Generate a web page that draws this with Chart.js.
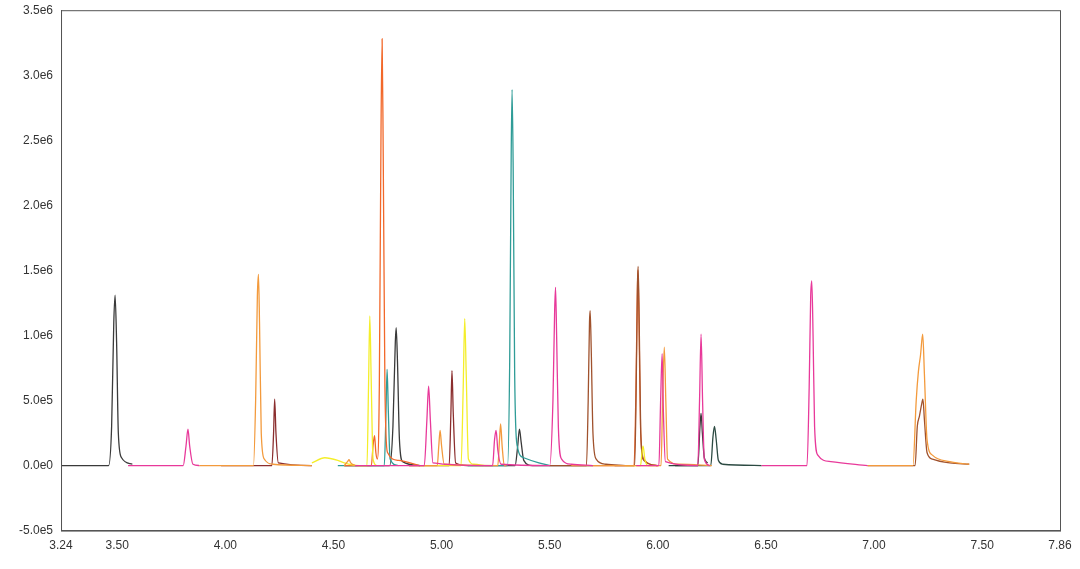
<!DOCTYPE html>
<html><head><meta charset="utf-8">
<script src="https://cdn.jsdelivr.net/npm/chart.js@4"></script>
<style>html,body{margin:0;background:#fff}#w{width:1080px;height:569px}</style>
</head><body><div id="w"><canvas id="c"></canvas></div>
<script>
const xTicks=[3.24,3.5,4.0,4.5,5.0,5.5,6.0,6.5,7.0,7.5,7.86];
const yTicks=[-5e5,0,5e5,1e6,1.5e6,2e6,2.5e6,3e6,3.5e6];
const N=null;
const blackTrace=[[3.24,0],[3.46,0],[3.474,0.3e6],[3.484,1.1e6],[3.49,1.31e6],[3.497,0.95e6],[3.505,0.25e6],[3.52,0.06e6],[3.57,0.01e6],N,
 [4.55,0],[4.76,0],[4.775,0.3e6],[4.786,0.95e6],[4.79,1.06e6],[4.796,0.8e6],[4.805,0.2e6],[4.82,0.03e6],[4.9,0],N,
 [5.12,0],[5.34,0],[5.352,0.15e6],[5.36,0.28e6],[5.368,0.18e6],[5.38,0.04e6],[5.42,0],[5.7,0],N,
 [6.08,0],[6.185,0],[6.195,0.3e6],[6.2,0.40e6],[6.206,0.25e6],[6.215,0.06e6],[6.23,0.02e6]];
const darkGreenTrace=[[6.05,0],[6.245,0],[6.255,0.22e6],[6.262,0.30e6],[6.27,0.2e6],[6.28,0.04e6],[6.3,0.01e6],[6.48,0]];
const pinkTrace=[[3.55,0],[3.805,0],[3.818,0.15e6],[3.827,0.28e6],[3.835,0.15e6],[3.85,0.01e6],[3.88,0],N,
 [4.6,0],[4.92,0],[4.932,0.35e6],[4.94,0.61e6],[4.948,0.35e6],[4.96,0.02e6],[5.2,0],[5.236,0],[5.245,0.2e6],[5.252,0.27e6],[5.26,0.12e6],[5.275,0.01e6],[5.5,0],
 [5.515,0.5e6],[5.523,1.2e6],[5.527,1.37e6],[5.532,1.0e6],[5.54,0.3e6],[5.555,0.05e6],[5.6,0.01e6],[5.7,0],N,
 [5.9,0],[6.005,0],[6.013,0.5e6],[6.02,0.86e6],[6.026,0.4e6],[6.035,0.03e6],[6.185,0],[6.193,0.5e6],[6.2,1.01e6],[6.207,0.5e6],[6.215,0.05e6],[6.24,0],N,
 [6.48,0],[6.69,0],[6.7,0.6e6],[6.707,1.3e6],[6.712,1.42e6],[6.718,1.0e6],[6.725,0.3e6],[6.74,0.08e6],[6.8,0.03e6],[6.97,0]];
const orangeTrace=[[3.88,0],[4.13,0],[4.14,0.5e6],[4.148,1.3e6],[4.153,1.47e6],[4.158,1.1e6],[4.166,0.25e6],[4.18,0.05e6],[4.22,0.01e6],[4.4,0],N,
 [4.55,0],[4.565,0.03e6],[4.572,0.045e6],[4.58,0.02e6],[4.6,0],N,
 [4.85,0],[4.98,0],[4.987,0.15e6],[4.993,0.27e6],[5.0,0.15e6],[5.012,0.01e6],[5.26,0],[5.268,0.2e6],[5.273,0.32e6],[5.28,0.15e6],[5.29,0],[5.3,0],N,
 [5.6,0],[6.015,0],[6.022,0.5e6],[6.03,0.91e6],[6.037,0.5e6],[6.045,0.05e6],[6.1,0.01e6],[6.25,0],N,
 [6.97,0],[7.18,0],[7.195,0.5e6],[7.205,0.72e6],[7.215,0.85e6],[7.225,1.01e6],[7.233,0.7e6],[7.245,0.2e6],[7.27,0.08e6],[7.35,0.03e6],[7.44,0.01e6]];
const darkRedTrace=[[3.98,0],[4.215,0],[4.223,0.25e6],[4.228,0.51e6],[4.234,0.25e6],[4.245,0.02e6],[4.4,0],N,
 [4.85,0],[5.035,0],[5.043,0.4e6],[5.048,0.73e6],[5.054,0.4e6],[5.065,0.02e6],[5.12,0]];
const yellowTrace=[[4.4,0.02e6],[4.46,0.06e6],[4.52,0.04e6],[4.55,0.02e6],[4.62,0],[4.655,0],[4.662,0.6e6],[4.668,1.15e6],[4.674,0.7e6],[4.683,0.05e6],[4.7,0],N,
 [4.9,0],[5.09,0],[5.1,0.6e6],[5.107,1.13e6],[5.114,0.7e6],[5.124,0.05e6],[5.15,0.01e6],[5.2,0],N,
 [5.85,0],[5.92,0],[5.927,0.1e6],[5.932,0.15e6],[5.94,0.05e6],[5.955,0],[6.0,0]];
const redOrangeTrace=[[4.55,0],[4.675,0],[4.683,0.15e6],[4.69,0.23e6],[4.696,0.1e6],[4.703,0.05e6],[4.712,0.6e6],[4.72,2.6e6],[4.725,3.28e6],[4.73,2.4e6],[4.738,0.6e6],[4.75,0.1e6],[4.8,0.04e6],[4.9,0],N,
 [5.7,0],[5.89,0],[5.898,0.5e6],[5.905,1.3e6],[5.908,1.5e6],[5.913,1.1e6],[5.92,0.3e6],[5.935,0.05e6],[6.0,0]];
const tealTrace=[[4.52,0],[4.735,0],[4.742,0.35e6],[4.748,0.74e6],[4.754,0.4e6],[4.762,0.05e6],[4.8,0],N,
 [5.12,0],[5.305,0],[5.315,0.8e6],[5.322,2.4e6],[5.326,2.89e6],[5.331,2.3e6],[5.338,0.7e6],[5.35,0.15e6],[5.38,0.06e6],[5.45,0.02e6],[5.5,0]];
const brownTrace=[[5.5,0],[5.67,0],[5.678,0.5e6],[5.684,1.1e6],[5.687,1.19e6],[5.692,0.9e6],[5.7,0.25e6],[5.715,0.05e6],[5.76,0.01e6],[5.85,0],N,
 [5.8,0],[5.893,0],[5.9,0.6e6],[5.906,1.4e6],[5.909,1.53e6],[5.914,1.1e6],[5.921,0.25e6],[5.935,0.04e6],[6.0,0],N,
 [6.97,0],[7.19,0],[7.2,0.3e6],[7.21,0.38e6],[7.22,0.47e6],[7.226,0.51e6],[7.233,0.35e6],[7.245,0.1e6],[7.27,0.05e6],[7.35,0.02e6],[7.44,0.01e6]];
const series=[
 ['#e8399a',pinkTrace],['#f39a3c',orangeTrace],['#f4ee2a',yellowTrace],['#8b2e2e',darkRedTrace],
 ['#a0522d',brownTrace],['#f2682a',redOrangeTrace],['#2f9c97',tealTrace],['#3a3a3a',blackTrace],['#2c4a42',darkGreenTrace]];
const boxPlugin={id:'box',afterDraw(c){const a=c.chartArea,x=c.ctx;x.save();x.strokeStyle='#555';x.lineWidth=1;x.strokeRect(a.left+0.5,a.top+0.5,a.right-a.left,a.bottom-a.top);x.restore();}};
new Chart(document.getElementById('c'),{type:'line',
 data:{datasets:series.map(([col,pts])=>({data:pts.map(p=>p?{x:p[0],y:p[1]}:{x:N,y:N}),borderColor:col,borderWidth:1.3,pointRadius:0,spanGaps:false,cubicInterpolationMode:'monotone'}))},
 options:{responsive:true,maintainAspectRatio:false,animation:false,
  layout:{padding:{top:4,right:20,left:16,bottom:13}},
  plugins:{legend:{display:false},tooltip:{enabled:false}},
  scales:{
   x:{type:'linear',min:3.24,max:7.86,afterBuildTicks:s=>{s.ticks=xTicks.map(v=>({value:v}))},
    grid:{display:false,drawTicks:true,tickLength:5,tickColor:'#555'},border:{color:'#555'},
    ticks:{color:'#333',font:{family:'Arial, Liberation Sans',size:12},maxRotation:0,autoSkip:false,callback:v=>v.toFixed(2)}},
   y:{min:-5e5,max:3.5e6,afterBuildTicks:s=>{s.ticks=yTicks.map(v=>({value:v}))},
    grid:{display:false,drawTicks:true,tickLength:5,tickColor:'#555'},border:{color:'#555'},
    ticks:{color:'#333',font:{family:'Arial, Liberation Sans',size:12},callback:v=>v.toExponential(1).replace('e+','e')}}}},
 plugins:[boxPlugin]});
</script></body></html>
